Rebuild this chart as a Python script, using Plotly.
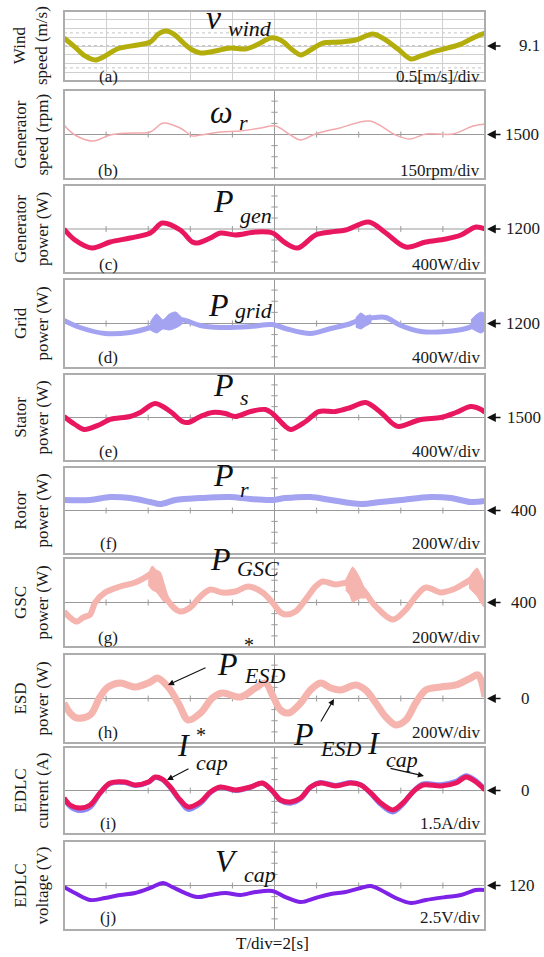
import plotly.graph_objects as go

# ---------------- data ----------------
# time in seconds (10 div x 2 s)
wind_t = [0, 0.52, 1.0, 1.48, 1.95, 2.52, 3.48, 4.1, 4.5, 4.85, 5.25, 5.62, 6.1, 6.48, 7.19, 7.9, 8.62, 9.24, 9.81,
          10.29, 10.86, 11.24, 11.71, 12.29, 13.14, 13.86, 14.67, 15.29, 15.86, 16.48, 16.95, 17.52, 18.24, 18.86, 19.43, 20]
wind_v = [9.56, 9.04, 8.53, 8.30, 8.53, 8.93, 9.16, 9.33, 9.8, 9.96, 9.75, 9.33, 8.87, 8.70, 8.81, 8.99, 8.93, 9.21, 9.56,
          9.44, 8.87, 8.59, 8.87, 9.27, 9.33, 9.44, 9.79, 9.44, 8.93, 8.36, 8.53, 8.76, 8.99, 9.21, 9.56, 9.84]

speed_t = [0, 0.52, 1.38, 2.19, 3.14, 4.1, 4.71, 5.52, 6.1, 6.48, 7.43, 8.38, 9.33, 10.05, 10.76, 11.24, 11.95,
           13.1, 14.52, 15.76, 16.43, 17.19, 18.48, 19.43, 20]
speed_v = [1628, 1493, 1412, 1493, 1520, 1534, 1655, 1588, 1480, 1493, 1534, 1547, 1588, 1615, 1493, 1426, 1507,
           1588, 1682, 1493, 1439, 1507, 1507, 1615, 1642]

pgen_t = [0, 0.52, 1.33, 2.19, 3.14, 4.1, 4.67, 5.52, 6.1, 6.33, 6.95, 7.43, 8.14, 9.1, 9.9, 10.52, 11.1, 11.95,
          12.67, 13.38, 14.48, 15.29, 16.24, 17.19, 18.14, 18.86, 19.57, 20]
pgen_v = [1200, 800, 509, 727, 873, 1054, 1418, 1164, 727, 691, 873, 1054, 982, 1091, 1054, 691, 509, 982,
          1091, 1164, 1455, 1054, 545, 727, 836, 982, 1273, 1200]

pgrid_t = [0, 0.76, 1.95, 3.14, 4.1, 4.57, 5.19, 5.76, 6.48, 7.43, 8.86, 9.9, 10.52, 11.71, 12.67, 13.62, 14.1,
           14.81, 15.29, 16.0, 16.95, 18.14, 19.1, 19.71, 20]
pgrid_v = [1308, 1056, 840, 876, 1056, 1200, 1380, 1308, 1128, 1056, 1092, 1164, 1020, 840, 1020, 1200, 1344,
           1416, 1416, 1128, 912, 912, 1020, 1200, 1236]
# oscillation bursts on grid power (upper / lower envelope)
pgrid_b1_t = [4.1, 4.4, 4.7, 5.0, 5.3, 5.6]
pgrid_b1_hi = [1254, 1542, 1326, 1542, 1614, 1398]
pgrid_b1_lo = [966, 858, 1002, 966, 1038, 1182]
pgrid_b2_t = [13.86, 14.1, 14.33, 14.57]
pgrid_b2_hi = [1398, 1578, 1470, 1506]
pgrid_b2_lo = [1074, 1002, 1110, 1218]
pgrid_b3_t = [19.33, 19.57, 19.81, 20]
pgrid_b3_hi = [1326, 1506, 1614, 1542]
pgrid_b3_lo = [1038, 930, 858, 966]

ps_t = [0, 0.52, 0.95, 1.71, 2.19, 3.14, 3.62, 4.33, 5.05, 5.62, 5.9, 6.48, 7.05, 7.67, 8.14, 8.86, 9.57, 9.9,
        10.52, 10.76, 11.48, 12.1, 12.9, 13.62, 14.33, 15.05, 15.67, 15.9, 16.95, 17.9, 18.62, 19.33, 19.81, 20]
ps_v = [1537, 1243, 1060, 1243, 1427, 1537, 1683, 2014, 1720, 1353, 1317, 1537, 1683, 1647, 1537, 1720, 1794, 1647,
        1170, 1060, 1353, 1720, 1720, 1867, 2050, 1683, 1243, 1170, 1427, 1500, 1683, 1904, 1794, 1683]

pr_t = [0, 1.24, 2.19, 3.14, 4.1, 4.57, 5.29, 6.48, 7.9, 8.86, 9.9, 10.52, 11.71, 12.67, 14.1, 15.05, 16.0,
        17.43, 18.38, 19.33, 20]
pr_v = [593, 593, 648, 629, 556, 519, 593, 629, 648, 611, 593, 629, 648, 593, 519, 556, 593, 648, 629, 556, 574]

pgsc_t = [0, 0.29, 0.62, 0.9, 1.24, 1.48, 1.95, 2.67, 3.38, 3.86, 4.19, 4.57, 4.9, 5.52, 6.0, 6.48, 6.95, 7.52,
          8.14, 8.76, 9.43, 9.9, 10.29, 10.52, 11.0, 11.48, 11.95, 12.29, 12.9, 13.52, 13.86, 14.19, 14.81, 15.62,
          16.24, 16.71, 17.19, 17.9, 18.48, 19.1, 19.57, 19.81, 20]
pgsc_v = [238, 130, 58, 130, 184, 400, 580, 688, 760, 850, 922, 778, 454, 238, 310, 508, 634, 580,
          598, 688, 580, 400, 220, 184, 238, 454, 688, 778, 724, 760, 724, 634, 328, 94,
          274, 508, 670, 580, 634, 760, 850, 670, 400]
pgsc_b1_t = [4.0, 4.19, 4.38, 4.57, 4.76]
pgsc_b1_hi = [895, 1057, 985, 949, 715]
pgsc_b1_lo = [715, 625, 589, 499, 409]
pgsc_b2_t = [13.38, 13.57, 13.71, 13.9, 14.1, 14.29]
pgsc_b2_hi = [805, 949, 1039, 949, 805, 625]
pgsc_b2_lo = [625, 535, 409, 445, 481, 481]
pgsc_b3_t = [19.24, 19.43, 19.62, 19.81, 20]
pgsc_b3_hi = [841, 949, 1021, 895, 715]
pgsc_b3_lo = [661, 589, 517, 391, 301]

pesd_t = [0, 0.29, 0.62, 1.24, 1.71, 2.1, 2.67, 3.38, 4.1, 4.43, 4.95, 5.43, 5.9, 6.48, 7.05, 7.52, 8.38, 9.1,
          9.57, 9.9, 10.29, 10.67, 11.24, 11.71, 12.19, 12.67, 13.14, 13.86, 14.33, 14.81, 15.29, 15.76, 16.24,
          16.71, 17.19, 17.9, 18.62, 19.33, 19.67, 20]
pesd_v = [-81, -261, -351, -297, 27, 207, 279, 207, 297, 369, 207, -81, -387, -261, 9, 99, 27, 189,
          279, 63, -207, -261, -81, 153, 279, 189, 153, 243, 153, -81, -333, -477, -387,
          -81, 153, 207, 243, 369, 423, 27]

icap_t = [0, 0.29, 0.76, 1.24, 1.71, 2.19, 2.9, 3.38, 4.0, 4.33, 4.67, 5.05, 5.52, 5.9, 6.48, 6.95, 7.43, 8.14,
          8.86, 9.43, 9.9, 10.29, 10.76, 11.24, 11.71, 12.19, 12.9, 13.62, 14.1, 14.57, 15.05, 15.62, 16.1, 16.57,
          17.05, 17.9, 18.62, 19.1, 19.57, 20]
icap_v = [-1.03, -2.0, -2.41, -2.0, -0.34, 1.03, 1.17, 0.76, 1.17, 1.86, 1.58, 0.48, -1.31, -2.27, -1.58, -0.21,
          0.48, 0.07, 0.48, 1.03, -0.07, -1.31, -1.58, -1.03, 0.48, 1.03, 0.62, 1.03, 0.76, -0.34, -1.72, -2.68,
          -1.72, -0.21, 0.76, 0.62, 1.03, 1.86, 1.17, 0.07]
icap_ref_v = [-1.1, -2.2, -2.75, -2.3, -0.4, 0.95, 1.1, 0.7, 1.1, 1.8, 1.5, 0.4, -1.45, -2.6, -1.8, -0.3,
              0.4, 0.0, 0.45, 1.0, -0.1, -1.4, -1.75, -1.15, 0.45, 1.1, 0.7, 1.1, 0.8, -0.4, -1.9, -2.95,
              -1.9, -0.2, 0.9, 0.8, 1.25, 2.05, 1.35, 0.15]

vcap_t = [0, 0.52, 1.24, 1.95, 2.67, 3.38, 4.1, 4.71, 5.14, 5.76, 6.33, 6.95, 7.67, 8.38, 9.1, 9.9, 10.52, 11.24,
          11.95, 12.67, 13.38, 14.1, 14.57, 15.05, 15.76, 16.48, 17.19, 18.14, 18.86, 19.57, 20]
vcap_v = [119.66, 118.31, 116.74, 117.19, 117.86, 118.31, 119.44, 120.56, 119.66, 118.31, 117.41, 117.86, 118.31,
          117.86, 118.54, 118.76, 117.41, 116.29, 117.19, 118.09, 118.54, 119.44, 119.89, 118.99, 117.19, 116.06,
          116.74, 117.41, 117.86, 118.99, 118.99]

# panel reference levels and per-division scales
ref_levels = [9.1, 1500, 1200, 1200, 1500, 400, 400, 0, 0, 120]
div_scales = [0.5, 150, 400, 400, 400, 200, 200, 200, 1.5, 2.5]
ref_labels = ["9.1", "1500", "1200", "1200", "1500", "400", "400", "0", "0", "120"]
scale_labels = ["0.5[m/s]/div", "150rpm/div", "400W/div", "400W/div", "400W/div", "200W/div", "200W/div",
                "200W/div", "1.5A/div", "2.5V/div"]
panel_tags = ["(a)", "(b)", "(c)", "(d)", "(e)", "(f)", "(g)", "(h)", "(i)", "(j)"]
y_titles = ["Wind<br>speed (m/s)", "Generator<br>speed (rpm)", "Generator<br>power (W)", "Grid<br>power (W)",
            "Stator<br>power (W)", "Rotor<br>power (W)", "GSC<br>power (W)", "ESD<br>power (W)",
            "EDLC<br>current (A)", "EDLC<br>voltage (V)"]
T_LABEL = "T/div=2[s]"

# ---------------- layout geometry (pixels) ----------------
W, H = 544, 957
PX0, PX1 = 64, 485
tops = [11, 90, 185, 279, 374, 467, 558, 654, 747, 841]
bots = [81, 179, 273, 368, 461, 554, 647, 743, 834, 930]
tag_y = [76, 171, 264, 357, 451, 543, 637, 732, 823, 917]
ref_text_x = [517, 503, 504, 504, 505, 509, 509, 519, 519, 507]
SERIF = "Liberation Serif"

OLIVE = "#b3ae0c"
PINK_LIGHT = "#f2a9ad"
CRIMSON = "#e9175f"
PERI = "#a3a3f2"
SALMON = "#f6b4ae"
BLUE = "#8a8af5"
VIOLET = "#7d22e6"
FRAME = "#adadad"
CLINE = "#9a9a9a"


def px(x):
    return x / W


def py(y):
    return 1 - y / H


def ax_names(i):
    s = "" if i == 0 else str(i + 1)
    return "x" + s, "y" + s, "xaxis" + s, "yaxis" + s


fig = go.Figure()
layout = dict(width=W, height=H, margin=dict(l=0, r=0, t=0, b=0), autosize=False,
              paper_bgcolor="white", plot_bgcolor="white", showlegend=False,
              font=dict(family=SERIF))
shapes = []
annotations = []

for i in range(10):
    xa, ya, xk, yk = ax_names(i)
    c, s = ref_levels[i], div_scales[i]
    grid = (i == 0)
    layout[xk] = dict(domain=[px(PX0), px(PX1)], range=[0, 20], anchor=ya, showticklabels=False,
                      ticks="", showline=False, zeroline=False, showgrid=grid, gridcolor="#cfcfcf",
                      gridwidth=1, dtick=2, tick0=0, fixedrange=True)
    layout[yk] = dict(domain=[py(bots[i]), py(tops[i])], range=[c - 4 * s, c + 4 * s], anchor=xa,
                      showticklabels=False, ticks="", showline=False, zeroline=False, showgrid=grid,
                      gridcolor="#cfcfcf", gridwidth=1, dtick=s, tick0=c, fixedrange=True)
    xd, yd = xa + " domain", ya + " domain"
    if grid:
        shapes.append(dict(type="line", xref=xd, yref=ya, x0=0, x1=1, y0=c, y1=c,
                           line=dict(color="#8c8c8c", width=1, dash="dot"), layer="below"))
        for k in [-2, 2]:
            shapes.append(dict(type="line", xref=xd, yref=ya, x0=0, x1=1, y0=c + (k - 0.5) * s,
                               y1=c + (k - 0.5) * s, line=dict(color="#c4c4c4", width=1, dash="dot"),
                               layer="below"))
    else:
        shapes.append(dict(type="line", xref=xd, yref=ya, x0=0, x1=1, y0=c, y1=c,
                           line=dict(color=CLINE, width=1), layer="below"))
        shapes.append(dict(type="line", xref=xa, yref=yd, x0=10, x1=10, y0=0, y1=1,
                           line=dict(color=CLINE, width=1), layer="below"))
        for k in range(1, 10):
            if k == 5:
                continue
            shapes.append(dict(type="line", xref=xa, yref=ya, x0=2 * k, x1=2 * k,
                               y0=c - 0.27 * s, y1=c + 0.27 * s, line=dict(color=CLINE, width=1), layer="below"))
        for k in [-3, -2, -1, 1, 2, 3]:
            shapes.append(dict(type="line", xref=xa, yref=ya, x0=9.85, x1=10.15,
                               y0=c + k * s, y1=c + k * s, line=dict(color=CLINE, width=1), layer="below"))
    shapes.append(dict(type="rect", xref=xd, yref=yd, x0=0, x1=1, y0=0, y1=1,
                       line=dict(color=FRAME, width=2), fillcolor="rgba(0,0,0,0)", layer="above"))

    ymid = (tops[i] + bots[i]) / 2
    annotations.append(dict(x=px(31), y=py(ymid), xref="paper", yref="paper", text=y_titles[i],
                            textangle=-90, showarrow=False, font=dict(family=SERIF, size=17, color="#1a1a1a"),
                            xanchor="center", yanchor="middle"))
    annotations.append(dict(x=px(108), y=py(tag_y[i]), xref="paper", yref="paper", text=panel_tags[i],
                            showarrow=False, font=dict(family=SERIF, size=17, color="#1a1a1a"),
                            xanchor="center", yanchor="middle"))
    annotations.append(dict(x=px(482), y=py(tag_y[i]), xref="paper", yref="paper", text=scale_labels[i],
                            showarrow=False, font=dict(family=SERIF, size=17, color="#1a1a1a"),
                            xanchor="right", yanchor="middle"))
    # reference arrow + value
    annotations.append(dict(x=20, y=c, xref=xa, yref=ya, text="", showarrow=True, ax=17, ay=0,
                            arrowhead=2, arrowsize=1.1, arrowwidth=1.6, arrowcolor="#111",
                            standoff=2))
    annotations.append(dict(x=px(ref_text_x[i]), y=c, xref="paper", yref=ya, text=ref_labels[i],
                            showarrow=False, font=dict(family=SERIF, size=17, color="#1a1a1a"),
                            xanchor="left", yanchor="middle"))


def line_trace(t, v, i, color, width):
    xa, ya, _, _ = ax_names(i)
    return go.Scatter(x=t, y=v, xaxis=xa, yaxis=ya, mode="lines", hoverinfo="skip",
                      line=dict(color=color, width=width, shape="spline", smoothing=0.95))


def burst_trace(t, hi, lo, i, color):
    xa, ya, _, _ = ax_names(i)
    return go.Scatter(x=list(t) + list(t)[::-1], y=list(hi) + list(lo)[::-1], xaxis=xa, yaxis=ya,
                      mode="lines", fill="toself", fillcolor=color, hoverinfo="skip",
                      line=dict(color=color, width=1, shape="spline", smoothing=0.6))


fig.add_trace(line_trace(wind_t, wind_v, 0, OLIVE, 5))
fig.add_trace(line_trace(speed_t, speed_v, 1, PINK_LIGHT, 1.5))
fig.add_trace(line_trace(pgen_t, pgen_v, 2, CRIMSON, 5))
fig.add_trace(line_trace(pgrid_t, pgrid_v, 3, PERI, 5))
for bt, bh, bl in [(pgrid_b1_t, pgrid_b1_hi, pgrid_b1_lo), (pgrid_b2_t, pgrid_b2_hi, pgrid_b2_lo),
                   (pgrid_b3_t, pgrid_b3_hi, pgrid_b3_lo)]:
    fig.add_trace(burst_trace(bt, bh, bl, 3, PERI))
fig.add_trace(line_trace(ps_t, ps_v, 4, CRIMSON, 5))
fig.add_trace(line_trace(pr_t, pr_v, 5, PERI, 6))
fig.add_trace(line_trace(pgsc_t, pgsc_v, 6, SALMON, 6))
for bt, bh, bl in [(pgsc_b1_t, pgsc_b1_hi, pgsc_b1_lo), (pgsc_b2_t, pgsc_b2_hi, pgsc_b2_lo),
                   (pgsc_b3_t, pgsc_b3_hi, pgsc_b3_lo)]:
    fig.add_trace(burst_trace(bt, bh, bl, 6, SALMON))
fig.add_trace(line_trace(pesd_t, pesd_v, 7, SALMON, 7))
fig.add_trace(line_trace(icap_t, icap_ref_v, 8, BLUE, 5))
fig.add_trace(line_trace(icap_t, icap_v, 8, CRIMSON, 5))
fig.add_trace(line_trace(vcap_t, vcap_v, 9, VIOLET, 4))


# ---------------- math labels ----------------
def txt(x, y, text, size, italic=True, anchor="center"):
    annotations.append(dict(x=px(x), y=py(y), xref="paper", yref="paper",
                            text=("<i>%s</i>" % text) if italic else text, showarrow=False,
                            font=dict(family=SERIF, size=size, color="#111"),
                            xanchor=anchor, yanchor="middle"))


def sym(x_edge, y_main, main, sub, y_sub, size=32, sub_size=22, star_y=None, gap=2):
    """main letter ends at x_edge; subscript (and optional star) start just right of it"""
    txt(x_edge, y_main, main, size, anchor="right")
    txt(x_edge + gap, y_sub, sub, sub_size, anchor="left")
    if star_y is not None:
        txt(x_edge + gap, star_y, "*", 20, italic=False, anchor="left")


def arrow(hx, hy, tx, ty):
    annotations.append(dict(x=px(hx), y=py(hy), xref="paper", yref="paper", text="", showarrow=True,
                            ax=tx - hx, ay=ty - hy, arrowhead=2, arrowsize=1.1, arrowwidth=1.1,
                            arrowcolor="#111"))


sym(224, 18, "v", "wind", 29, size=34)
sym(235, 112, "ω", "r", 122)
sym(236, 201, "P", "gen", 215)
sym(231, 305, "P", "grid", 311)
sym(236, 385, "P", "s", 397)
sym(236, 475, "P", "r", 490)
sym(233, 559, "P", "GSC", 568)
sym(240, 664, "P", "ESD", 675, star_y=645)
sym(316, 734, "P", "ESD", 748)
sym(192, 745, "I", "cap", 762, star_y=735)
sym(382, 743, "I", "cap", 759)
sym(240, 861, "V", "cap", 874)
txt(272, 943, T_LABEL, 17, italic=False)

arrow(168, 685, 207, 667)
arrow(334, 699, 320, 723)
arrow(167, 780, 190, 768)
arrow(424, 776, 389, 768)

layout["shapes"] = shapes
layout["annotations"] = annotations
fig.update_layout(**layout)
fig.write_html("out.html", config={"displayModeBar": False},
               post_script="document.body.style.margin='0px';")
